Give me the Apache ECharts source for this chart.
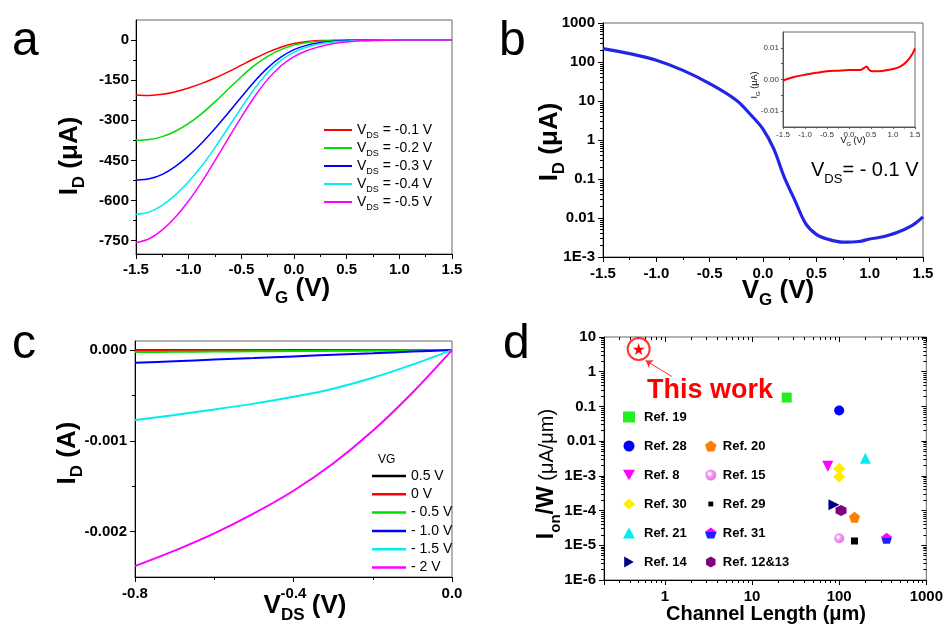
<!DOCTYPE html>
<html><head><meta charset="utf-8">
<script src="https://cdn.jsdelivr.net/npm/echarts@6/dist/echarts.min.js"></script>
<style>html,body{margin:0;padding:0;background:#fff}#c{width:946px;height:630px}</style>
</head><body><div id="c"></div>
<script>
// ---------- Panel a : ID vs VG (linear) ----------
const aVG = [-1.5,-1.375,-1.25,-1.125,-1.0,-0.875,-0.75,-0.625,-0.5,-0.375,-0.25,-0.125,0,0.125,0.25,0.375,0.5,0.625,0.75,0.875,1.0,1.125,1.25,1.375,1.5];
const aVds01 = [-205,-207,-203,-193,-179,-162,-142,-119,-94,-69,-46,-27,-13,-5,-2,-1,0,0,0,0,0,0,0,0,0];
const aVds02 = [-375,-372,-361,-341,-312,-275,-231,-184,-137,-95,-61,-36,-19,-9,-4,-2,-1,0,0,0,0,0,0,0,0];
const aVds03 = [-524,-519,-502,-472,-432,-385,-331,-273,-213,-155,-104,-64,-36,-19,-9,-4,-2,-1,0,0,0,0,0,0,0];
const aVds04 = [-652,-643,-617,-579,-529,-470,-402,-328,-253,-182,-121,-76,-45,-26,-14,-7,-4,-2,-1,0,0,0,0,0,0];
const aVds05 = [-758,-743,-710,-662,-601,-530,-451,-369,-288,-212,-147,-97,-62,-39,-24,-13,-7,-3,-2,-1,0,0,0,0,0];
const aNames = ['VDS = -0.1 V','VDS = -0.2 V','VDS = -0.3 V','VDS = -0.4 V','VDS = -0.5 V'];
const aYTicks = [-750,-600,-450,-300,-150,0];
const aYMinor = [-675,-525,-375,-225,-75];

// ---------- Panel b : ID vs VG (log) ----------
const bVG = [-1.5,-1.25,-1.0,-0.75,-0.5,-0.25,-0.1,0,0.1,0.2,0.3,0.4,0.5,0.6,0.75,0.9,1.0,1.1,1.25,1.4,1.5];
const bID = [221,164,111,61,28,10.5,4.0,1.9,0.6,0.11,0.028,0.0072,0.0038,0.0029,0.0024,0.0025,0.0029,0.0032,0.0042,0.0065,0.0107];
// inset : IG vs VG
const bInVG = [-1.5,-1.25,-1.0,-0.75,-0.5,-0.25,0,0.25,0.35,0.4,0.45,0.5,0.6,0.75,1.0,1.15,1.25,1.35,1.45,1.5];
const bInIG = [-0.0003,0.0008,0.0015,0.0021,0.0026,0.0028,0.003,0.003,0.0037,0.0041,0.0032,0.0027,0.0026,0.0027,0.0033,0.0040,0.0049,0.0063,0.0083,0.0098];
const bInYTicks = [-0.01,0,0.01];

// ---------- Panel c : ID vs VDS ----------
const cVDS = [-0.8,-0.7,-0.6,-0.5,-0.4,-0.3,-0.2,-0.1,0];
const cVg05 = [-0.000001,-0.0000009,-0.0000008,-0.0000006,-0.0000005,-0.0000004,-0.0000002,-0.0000001,0];
const cVg0 = [-0.000004,-0.0000035,-0.000003,-0.0000025,-0.000002,-0.0000015,-0.000001,-0.0000005,0];
const cVgm05 = [-0.000022,-0.000019,-0.000016,-0.000013,-0.000011,-0.000008,-0.0000055,-0.0000027,0];
const cVgm10 = [-0.000140,-0.000123,-0.000105,-0.000088,-0.000070,-0.000052,-0.000035,-0.000017,0];
const cVgm15 = [-0.00077,-0.000715,-0.000655,-0.00059,-0.000515,-0.000425,-0.000305,-0.00016,0];
const cVgm20 = [-0.00238,-0.00221,-0.00202,-0.00180,-0.00155,-0.00125,-0.00089,-0.00047,0];
const cNames = ['0.5 V','0 V','- 0.5 V','- 1.0 V','- 1.5 V','- 2 V'];
const cYTicks = [-0.002,-0.001,0];
const cYMinor = [-0.0015,-0.0005];

// ---------- Panel d : Ion/W vs channel length ----------
const dThisWork = [[0.5, 4.5]];
const dRef19 = [[25, 0.18]];
const dRef28 = [[100, 0.076]];
const dRef8 = [[74, 0.0019]];
const dRef30 = [[100, 0.0016],[100, 0.00095]];
const dRef21 = [[200, 0.0032]];
const dRef14 = [[87, 0.000146]];
const dRef20 = [[150, 0.000064]];
const dRef15 = [[100, 0.000016]];
const dRef29 = [[150, 0.0000133]];
const dRef31 = [[350, 0.000016]];
const dRef1213 = [[105, 0.0001]];
const dArrow = [[1.2, 0.73],[0.6, 2.1]];

const F = 'Arial, "Liberation Sans", sans-serif';
const lbl = {fontFamily:F, fontWeight:'bold', fontSize:15, color:'#000'};
const axLine = {show:true, onZero:false, lineStyle:{color:'#000', width:1}};
const noSplit = {show:false};
const xAxes = [], yAxes = [];
const addX = o => (xAxes.push(o), xAxes.length-1);
const addY = o => (yAxes.push(o), yAxes.length-1);
function tickAxis(grid, pos, min, max, vals, len, inside) {
  return {type:'value', gridIndex:grid, position:pos, min:min, max:max, silent:true,
    axisLine:{show:false, onZero:false}, axisLabel:{show:false}, splitLine:noSplit,
    axisTick:{show:true, customValues:vals, length:len, inside:!!inside, lineStyle:{color:'#000', width:1}}};
}
function logMinor(e0, e1) { const o=[]; for (let e=e0;e<e1;e++) for (let k=2;k<=9;k++) o.push(Math.log10(k)+e); return o; }
function logMajor(e0, e1) { const o=[]; for (let e=e0;e<=e1;e++) o.push(e); return o; }
function logFmt(v) {
  const l = Math.log10(v), e = Math.round(l);
  if (Math.abs(l-e) > 1e-6) return '';
  if (e < -2) return '1E' + e;
  if (e < 0) return v.toFixed(-e);
  return String(Math.round(v));
}
const fix1 = v => v.toFixed(1);

const grids = [
  {left:136, top:20, width:316, height:234},
  {left:603, top:23, width:320, height:234},
  {left:783, top:32, width:132, height:95},
  {left:135, top:341, width:317, height:236},
  {left:604, top:337, width:326, height:243}
].map(g => Object.assign({show:true, borderColor:'#666', borderWidth:1, backgroundColor:'transparent'}, g));

// ---- axes a
const xa = addX({type:'value', gridIndex:0, position:'bottom', min:-1.5, max:1.5, interval:0.5,
  axisLine:axLine, axisTick:{length:5, lineStyle:{color:'#000'}},
  minorTick:{show:true, splitNumber:2, length:3, lineStyle:{color:'#000'}},
  axisLabel:Object.assign({margin:8, formatter:fix1}, lbl), splitLine:noSplit});
const ya = addY({type:'value', gridIndex:0, position:'left', min:-800, max:75,
  axisLine:axLine, axisTick:{length:5, customValues:aYTicks, lineStyle:{color:'#000'}},
  axisLabel:Object.assign({margin:7, customValues:aYTicks}, lbl), splitLine:noSplit});
addY(tickAxis(0,'left',-800,75,aYMinor,3));

// ---- axes b
const xb = addX({type:'value', gridIndex:1, position:'bottom', min:-1.5, max:1.5, interval:0.5,
  axisLine:axLine, axisTick:{length:5, lineStyle:{color:'#000'}},
  minorTick:{show:true, splitNumber:2, length:3, lineStyle:{color:'#000'}},
  axisLabel:Object.assign({margin:9, formatter:fix1}, lbl), splitLine:noSplit});
const yb = addY({type:'log', logBase:10, gridIndex:1, position:'left', min:0.001, max:1000,
  axisLine:axLine, axisTick:{length:5, lineStyle:{color:'#000'}},
  axisLabel:Object.assign({margin:8, formatter:logFmt}, lbl), splitLine:noSplit});
addY(tickAxis(1,'left',-3,3,logMinor(-3,3),3));

// ---- inset
const inLbl = {fontFamily:F, fontSize:8, color:'#333'};
const xi = addX({type:'value', gridIndex:2, position:'bottom', min:-1.5, max:1.5, interval:0.5,
  axisLine:{show:true, onZero:false, lineStyle:{color:'#555'}}, axisTick:{length:2, lineStyle:{color:'#555'}},
  minorTick:{show:true, splitNumber:2, length:1.5, lineStyle:{color:'#555'}},
  axisLabel:Object.assign({margin:4, formatter:fix1}, inLbl), splitLine:noSplit});
const yi = addY({type:'value', gridIndex:2, position:'left', min:-0.015, max:0.015,
  axisLine:{show:true, onZero:false, lineStyle:{color:'#555'}},
  axisTick:{length:2, customValues:[-0.01,-0.005,0,0.005,0.01], lineStyle:{color:'#555'}},
  axisLabel:Object.assign({margin:4, customValues:bInYTicks, formatter:v=>v.toFixed(2)}, inLbl), splitLine:noSplit});

// ---- axes c
const xc = addX({type:'value', gridIndex:3, position:'bottom', min:-0.8, max:0, interval:0.4,
  axisLine:axLine, axisTick:{length:5, lineStyle:{color:'#000'}},
  minorTick:{show:true, splitNumber:2, length:3, lineStyle:{color:'#000'}},
  axisLabel:Object.assign({margin:9, formatter:fix1}, lbl), splitLine:noSplit});
const yc = addY({type:'value', gridIndex:3, position:'left', min:-0.0025, max:0.0001,
  axisLine:axLine, axisTick:{length:5, customValues:cYTicks, lineStyle:{color:'#000'}},
  axisLabel:Object.assign({margin:8, customValues:cYTicks, formatter:v=>v.toFixed(3)}, lbl), splitLine:noSplit});
addY(tickAxis(3,'left',-0.0025,0.0001,cYMinor,3));

// ---- axes d
const xd = addX({type:'log', logBase:10, gridIndex:4, position:'bottom', min:0.2, max:1000,
  axisLine:axLine, axisTick:{length:5, lineStyle:{color:'#000'}},
  axisLabel:Object.assign({margin:9, formatter:logFmt}, lbl), splitLine:noSplit});
const dxMin = Math.log10(0.2);
addX(tickAxis(4,'bottom',dxMin,3,logMinor(-1,3).filter(v=>v>dxMin+1e-9),3));
addX(tickAxis(4,'top',dxMin,3,logMajor(0,3),5,true));
addX(tickAxis(4,'top',dxMin,3,logMinor(-1,3).filter(v=>v>dxMin+1e-9),3,true));
const yd = addY({type:'log', logBase:10, gridIndex:4, position:'left', min:0.000001, max:10,
  axisLine:axLine, axisTick:{length:5, lineStyle:{color:'#000'}},
  axisLabel:Object.assign({margin:8, formatter:logFmt}, lbl), splitLine:noSplit});
addY(tickAxis(4,'left',-6,1,logMinor(-6,1),3));
addY(tickAxis(4,'right',-6,1,logMajor(-6,1),5,true));
addY(tickAxis(4,'right',-6,1,logMinor(-6,1),3,true));

const zip = (xs, ys) => xs.map((x,i)=>[x, ys[i]]);

const series = [];
const aColors = ['#ff0000','#00dd00','#0000ff','#00eeee','#ff00ff'];
[aVds01,aVds02,aVds03,aVds04,aVds05].forEach((arr,i)=>{
  series.push({type:'line', name:aNames[i], xAxisIndex:xa, yAxisIndex:ya, data:zip(aVG,arr),
    smooth:0.3, symbol:'none', lineStyle:{color:aColors[i], width:1.5}, itemStyle:{color:aColors[i]}});
});
series.push({type:'line', name:'bID', xAxisIndex:xb, yAxisIndex:yb, data:zip(bVG,bID), smooth:0.35,
  symbol:'none', lineStyle:{color:'#2424e6', width:3.2}});
series.push({type:'line', name:'bIG', xAxisIndex:xi, yAxisIndex:yi, data:zip(bInVG,bInIG), smooth:0.3,
  symbol:'none', lineStyle:{color:'#ff0000', width:2}});
const cColors = ['#000000','#ff0000','#00dd00','#0000ff','#00eeee','#ff00ff'];
[cVg05,cVg0,cVgm05,cVgm10,cVgm15,cVgm20].forEach((arr,i)=>{
  series.push({type:'line', name:cNames[i], xAxisIndex:xc, yAxisIndex:yc, data:zip(cVDS,arr),
    smooth:0.3, symbol:'none', lineStyle:{color:cColors[i], width:2}, itemStyle:{color:cColors[i]}});
});

const STAR = 'path://M50,0 L61,35 L98,35 L68,57 L79,91 L50,70 L21,91 L32,57 L2,35 L39,35 Z';
const PENT = 'path://M50,0 L98,35 L79,91 L21,91 L2,35 Z';
const HEX = 'path://M50,0 L93,25 L93,75 L50,100 L7,75 L7,25 Z';
const TRI_DOWN = 'path://M0,0 L100,0 L50,87 Z';
const TRI_RIGHT = 'path://M0,0 L87,50 L0,100 Z';
const SMALL_SQ = 'path://M0,0 L0,0 M100,100 L100,100 M28,28 L72,28 L72,72 L28,72 Z';
function sc(name, data, symbol, size, color, extra) {
  return Object.assign({type:'scatter', name:name, xAxisIndex:xd, yAxisIndex:yd, data:data,
    symbol:symbol, symbolSize:size, itemStyle:{color:color, opacity:1}}, extra||{});
}
series.push(sc('thisCircle', dThisWork, 'emptyCircle', 22, '#ff0000', {itemStyle:{color:'#ff0000', borderWidth:1.5}}));
series.push(sc('This work', dThisWork, STAR, 12, '#ff0000', {
  markLine:{silent:true, symbol:['none','arrow'], symbolSize:7, label:{show:false},
    lineStyle:{color:'#ff3030', width:1, type:'solid'},
    data:[[{coord:dArrow[0]},{coord:dArrow[1]}]]}}));
series.push(sc('Ref. 19', dRef19, 'rect', 10, '#22ee22'));
series.push(sc('Ref. 28', dRef28, 'circle', 10, '#0000ff'));
series.push(sc('Ref. 8', dRef8, TRI_DOWN, 11, '#ff00ff'));
series.push(sc('Ref. 30', dRef30, 'diamond', 12, '#ffee00'));
series.push(sc('Ref. 21', dRef21, 'triangle', 11, '#00eeee'));
series.push(sc('Ref. 14', dRef14, TRI_RIGHT, 11, '#000080'));
series.push(sc('Ref. 20', dRef20, PENT, 11, '#ff8000'));
series.push(sc('Ref. 15', dRef15, 'circle', 10, {type:'radial', x:0.4, y:0.4, r:0.65,
  colorStops:[{offset:0,color:'#ffffff'},{offset:0.12,color:'#ffffff'},{offset:0.4,color:'#f49cf4'},{offset:1,color:'#e070e0'}]}));
series.push(sc('Ref. 29', dRef29, 'rect', 7, '#000000'));
series.push(sc('Ref. 31', dRef31, PENT, 11, {type:'linear', x:0, y:0, x2:0, y2:1,
  colorStops:[{offset:0,color:'#ff00ff'},{offset:0.45,color:'#ff00ff'},{offset:0.45,color:'#2020ff'},{offset:1,color:'#2020ff'}]}));
series.push(sc('Ref. 12&13', dRef1213, HEX, 11, '#800080'));

// ---------- texts ----------
function rt(x, y, text, rich, opt) {
  return Object.assign({type:'text', x:x, y:y, silent:true,
    style:{text:text, rich:rich, align:'center', verticalAlign:'middle', fill:'#000'}}, opt||{});
}
function subRich(fs, ss, lh, weight) {
  return {m:{fontFamily:F, fontWeight:weight, fontSize:fs, lineHeight:lh, fill:'#000'},
          s:{fontFamily:F, fontWeight:weight, fontSize:ss, lineHeight:ss, verticalAlign:'bottom', fill:'#000'}};
}
const bigTitle = subRich(26, 17, 36, 'bold');
const ROT = Math.PI/2;
const letter = (x,y,t) => ({type:'text', x:x, y:y, silent:true, style:{text:t, font:'48px '+F, fill:'#000', align:'left', verticalAlign:'middle'}});

const graphic = [
  letter(12, 42, 'a'), letter(499, 42, 'b'), letter(12, 345, 'c'), letter(503, 345, 'd'),
  rt(70, 156, '{m|I}{s|D}{m| (μA)}', bigTitle, {rotation:ROT}),
  rt(294, 289, '{m|V}{s|G}{m| (V)}', bigTitle),
  rt(550, 142, '{m|I}{s|D}{m| (μA)}', bigTitle, {rotation:ROT}),
  rt(778, 291, '{m|V}{s|G}{m| (V)}', bigTitle),
  rt(68, 453, '{m|I}{s|D}{m| (A)}', bigTitle, {rotation:ROT}),
  rt(305, 606, '{m|V}{s|DS}{m| (V)}', bigTitle),
  rt(547, 474, '{m|I}{s|on}{m|/W}{n| (μA/μm)}',
     Object.assign(subRich(23, 15, 32, 'bold'), {n:{fontFamily:F, fontWeight:'normal', fontSize:20, lineHeight:32, fill:'#000'}}), {rotation:ROT}),
  rt(766, 614, 'Channel Length (μm)', null, {style:{text:'Channel Length (μm)', font:'bold 20px '+F, fill:'#000', align:'center', verticalAlign:'middle'}}),
  rt(755, 85, '{m|I}{s|G}{m| (μA)}', subRich(9, 6, 12, 'normal'), {rotation:ROT}),
  rt(853, 141, '{m|V}{s|G}{m| (V)}', subRich(9, 6, 12, 'normal')),
  {type:'text', x:811, y:170, silent:true, style:{text:'{m|V}{s|DS}{m|= - 0.1 V}', rich:subRich(20, 13, 32, 'normal'), align:'left', verticalAlign:'middle'}},
  {type:'text', x:378, y:460, silent:true, style:{text:'VG', font:'12px '+F, fill:'#000', align:'left', verticalAlign:'middle'}},
  {type:'text', x:710, y:391, silent:true, style:{text:'This work', font:'bold 27px '+F, fill:'#ff0000', align:'center', verticalAlign:'middle'}}
];

const dLegText = {fontFamily:F, fontSize:13, fontWeight:'bold', lineHeight:16, color:'#000'};
const legends = [
  {data:aNames, left:324, top:123, orient:'vertical', padding:0, itemGap:1, itemWidth:28, itemHeight:2, icon:'rect', selectedMode:false,
   formatter:n=>'{m|V}{s|DS}{m|'+n.slice(3)+'}',
   textStyle:{rich:{m:{fontFamily:F, fontSize:14, lineHeight:20, color:'#000'}, s:{fontFamily:F, fontSize:9, lineHeight:9, verticalAlign:'bottom', color:'#000'}}}},
  {data:cNames, left:372, top:468, orient:'vertical', padding:0, itemGap:2.3, itemWidth:34, itemHeight:2.5, icon:'rect', selectedMode:false,
   textStyle:{fontFamily:F, fontSize:14, lineHeight:16, color:'#000'}},
  {data:['Ref. 19','Ref. 28','Ref. 8','Ref. 30','Ref. 21','Ref. 14'], left:623, top:409, orient:'vertical', padding:0, itemGap:13,
   itemWidth:12, itemHeight:11, selectedMode:false,
   textStyle:Object.assign({padding:[0,0,0,4]}, dLegText)},
  {data:['Ref. 20','Ref. 15',{name:'Ref. 29', icon:SMALL_SQ},'Ref. 31','Ref. 12&13'], left:705, top:438, orient:'vertical', padding:0, itemGap:13,
   itemWidth:12, itemHeight:11, selectedMode:false,
   textStyle:Object.assign({padding:[0,0,0,1]}, dLegText)}
];

const chart = echarts.init(document.getElementById('c'));
chart.setOption({
  animation:false, backgroundColor:'#fff',
  grid:grids, xAxis:xAxes, yAxis:yAxes, series:series, legend:legends, graphic:graphic
});
</script></body></html>
